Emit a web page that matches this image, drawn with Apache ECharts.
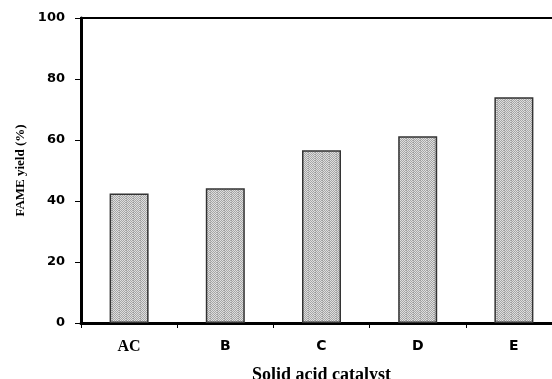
<!DOCTYPE html>
<html><head><meta charset="utf-8">
<script src="https://cdn.jsdelivr.net/npm/echarts@6/dist/echarts.min.js"></script>
<style>html,body{margin:0;padding:0;background:#fff}#c{width:552px;height:379px}</style>
</head><body><div id="c"></div>
<script>
var categories = ['AC', 'B', 'C', 'D', 'E'];
var fameYield = [42.5, 44.2, 56.6, 61.2, 74.0];
var yTicks = [0, 20, 40, 60, 80, 100];

var pc = document.createElement('canvas');
pc.width = 7; pc.height = 2;
var ctx = pc.getContext('2d');
for (var x = 0; x < 7; x++) {
  for (var y = 0; y < 2; y++) {
    var dark = (x + y) % 2 === 0;
    var c = dark ? '#a6a6a6' : '#dedede';
    if (x === 0) c = dark ? '#9a9a9a' : '#c8c8c8';
    ctx.fillStyle = c; ctx.fillRect(x, y, 1, 1);
  }
}

var chart = echarts.init(document.getElementById('c'));
chart.setOption({
  animation: false,
  grid: {left: 81, top: 18, width: 481, bottom: 56, outerBoundsMode: 'none', containLabel: false,
    show: true, borderColor: '#000', borderWidth: 2},
  xAxis: {
    type: 'category', data: categories,
    name: 'Solid acid catalyst', nameLocation: 'middle', nameGap: 43,
    nameTextStyle: {fontFamily: 'Liberation Serif', fontWeight: 'bold', fontSize: 18, color: '#000'},
    axisLine: {lineStyle: {color: '#000', width: 3}},
    axisTick: {show: true, length: 5, lineStyle: {color: '#000', width: 1}},
    axisLabel: {
      margin: 16, color: '#000', fontSize: 14, fontWeight: 'bold', fontFamily: 'DejaVu Sans',
      formatter: function (v) { return v === 'AC' ? '{s|' + v + '}' : v; },
      rich: {s: {fontFamily: 'Liberation Serif', fontWeight: 'bold', fontSize: 16, color: '#000'}}
    }
  },
  yAxis: {
    type: 'value', min: 0, max: 100, interval: 20,
    name: 'FAME yield (%)', nameLocation: 'middle', nameGap: 51,
    nameTextStyle: {fontFamily: 'Liberation Serif', fontWeight: 'bold', fontSize: 13, color: '#000'},
    axisLine: {show: true, lineStyle: {color: '#000', width: 3}},
    axisTick: {show: true, length: 6, lineStyle: {color: '#000', width: 1}},
    splitLine: {show: false},
    axisLabel: {margin: 16, color: '#000', fontSize: 13, fontWeight: 'bold', fontFamily: 'DejaVu Sans',
      formatter: function (v) { return yTicks.indexOf(v) >= 0 ? String(v) : ''; }}
  },
  series: [{
    type: 'bar', data: fameYield, barWidth: 39,
    itemStyle: {color: {image: pc, repeat: 'repeat'}, borderColor: '#333', borderWidth: 1.5}
  }]
});
</script></body></html>
